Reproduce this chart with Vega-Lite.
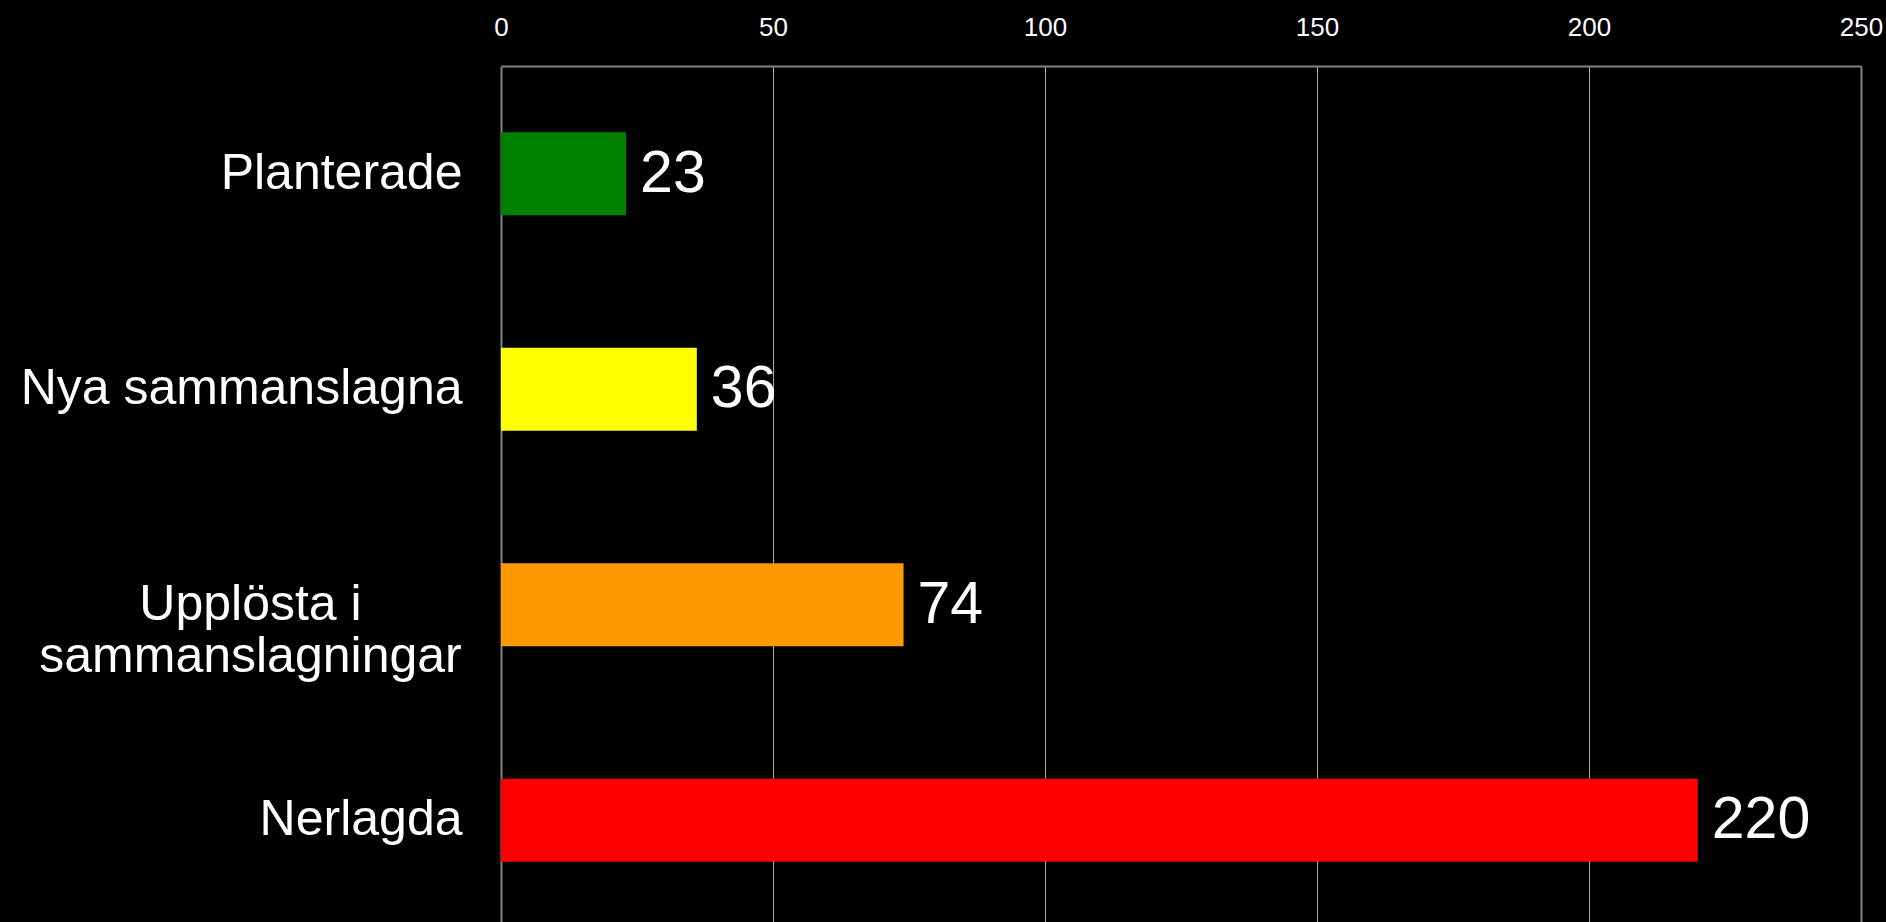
{
  "$schema": "https://vega.github.io/schema/vega-lite/v6.json",
  "width": 1360,
  "height": 862,
  "autosize": {"type": "none"},
  "padding": {"left": 501, "top": 66, "right": 25, "bottom": 0},
  "background": "black",
  "config": {"view": {"stroke": null}, "font": "Liberation Sans"},
  "data": {"values": [
    {"category": "Planterade", "count": 23},
    {"category": "Nya sammanslagna", "count": 36},
    {"category": "Upplösta i\nsammanslagningar", "count": 74},
    {"category": "Nerlagda", "count": 220}
  ]},
  "encoding": {
    "y": {
      "field": "category", "type": "nominal", "sort": null,
      "scale": {"paddingInner": 0.615, "paddingOuter": 0.3075},
      "axis": {
        "title": null, "orient": "left",
        "domainColor": "#808080", "domainWidth": 2,
        "ticks": false, "tickSize": 0,
        "labelColor": "white", "labelFontSize": 50, "labelFont": "Liberation Sans",
        "labelLineHeight": 52, "labelLimit": 0,
        "labelExpr": "split(datum.label, '\\n')",
        "labelAlign": {"condition": {"test": "indexof(datum.value, '\\n') >= 0", "value": "center"}, "value": "right"},
        "labelPadding": {"condition": {"test": "indexof(datum.value, '\\n') >= 0", "value": 251}, "value": 39},
        "labelBaseline": "middle"
      }
    },
    "x": {
      "field": "count", "type": "quantitative",
      "scale": {"domain": [0, 250], "nice": false},
      "axis": {
        "title": null, "orient": "top",
        "values": [0, 50, 100, 150, 200, 250],
        "grid": true,
        "gridColor": {"condition": {"test": "datum.value == 250", "value": "#808080"}, "value": "#a8a8a8"},
        "gridWidth": {"condition": {"test": "datum.value == 250", "value": 2}, "value": 1},
        "domainColor": "#808080", "domainWidth": 2,
        "ticks": false, "tickSize": 0,
        "labelColor": "white", "labelFontSize": 26, "labelFont": "Liberation Sans",
        "labelPadding": 31, "labelBaseline": "alphabetic",
        "labelFlush": false, "labelOverlap": false
      }
    }
  },
  "layer": [
    {
      "mark": {"type": "bar"},
      "encoding": {
        "color": {
          "field": "category", "type": "nominal",
          "scale": {
            "domain": ["Planterade", "Nya sammanslagna", "Upplösta i\nsammanslagningar", "Nerlagda"],
            "range": ["#008000", "#ffff00", "#ff9900", "#ff0000"]
          },
          "legend": null
        }
      }
    },
    {
      "mark": {"type": "text", "align": "left", "baseline": "middle", "dx": 14, "fontSize": 59, "color": "white", "font": "Liberation Sans"},
      "encoding": {"text": {"field": "count", "type": "quantitative"}}
    }
  ]
}
